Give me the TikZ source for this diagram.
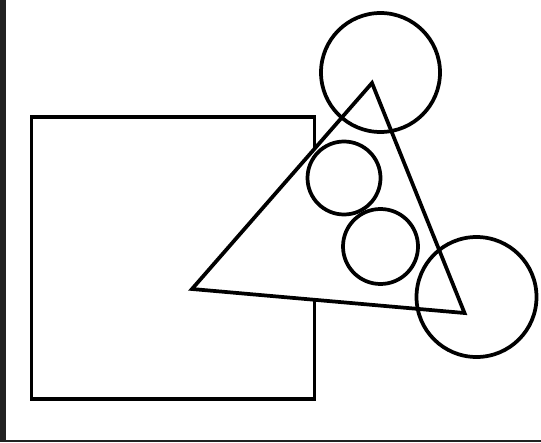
\documentclass[tikz,border=0pt]{standalone}
\usepackage{xcolor}
\usepackage{tikz}
\definecolor{frame}{HTML}{222222}

\begin{document}
\begin{tikzpicture}[
  x=0.75pt,
  y=-0.75pt,
  outline/.style={draw=black, line width=2.8pt, line join=miter},
  hole/.style={outline, fill=white},
  ring/.style={outline, fill=none},
  edge/.style={fill=frame, draw=none}
]
\useasboundingbox (0,0) rectangle (541,442);
\path[fill=white] (0,0) rectangle (541,442);
\path[edge] (0,0) rectangle (6,442);
\path[edge] (0,440) rectangle (541,442);
% square, partly hidden under the triangle
\draw[outline] (31.5,117) rectangle (314.5,399);
\draw[hole] (192,289) -- (372,83) -- (464.5,313) -- cycle;
% circles
\draw[ring] (380.5,72.5) circle (59.5);
\draw[ring] (344,178) circle (36.5);
\draw[ring] (380.5,246.5) circle (37.5);
\draw[ring] (476.5,297) circle (60);
\end{tikzpicture}
\end{document}
